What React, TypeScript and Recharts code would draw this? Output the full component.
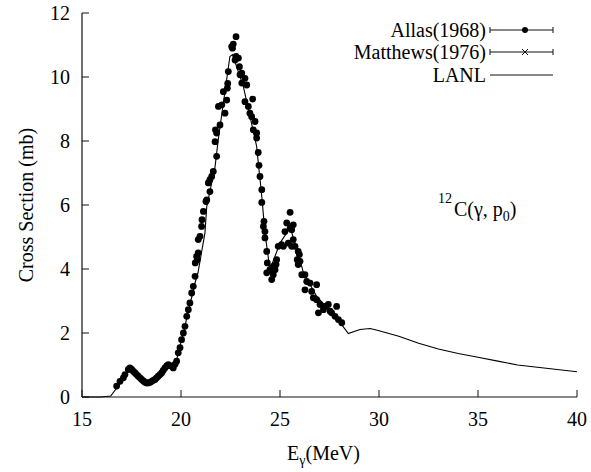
import { ComposedChart, Line, Scatter, XAxis, YAxis } from "recharts"

// LANL evaluation curve
const lanlE = [15, 15.94, 16.45, 16.9, 17.42, 17.9, 18.35, 18.9, 19.34, 19.58, 19.78, 20.12, 20.71, 20.86, 21.21, 21.3, 21.72, 21.88, 22.47, 22.6, 23.15, 23.82, 24.08, 24.24, 24.49, 25.0, 25.51, 25.92, 26.18, 26.85, 28.03, 28.45, 29.04, 29.55, 29.96, 31, 32, 33, 34, 35, 36, 37, 38, 39, 40]
const lanlXs = [0, 0, 0.03, 0.4, 0.86, 0.62, 0.45, 0.72, 1.06, 0.93, 1.17, 2.01, 3.57, 3.89, 5.13, 5.95, 7.2, 8.04, 10.64, 10.7, 9.7, 7.83, 6.27, 5.13, 3.98, 4.81, 5.29, 4.51, 3.89, 3.15, 2.33, 1.98, 2.11, 2.14, 2.08, 1.9, 1.68, 1.5, 1.36, 1.24, 1.12, 1.0, 0.93, 0.86, 0.79]

// Allas (1968) measured points
const allasE = [16.75, 16.92, 17.09, 17.17, 17.34, 17.42, 17.51, 17.6, 17.68, 17.76, 17.84, 17.93, 18.01, 18.1, 18.18, 18.27, 18.35, 18.44, 18.52, 18.6, 18.69, 18.77, 18.85, 18.94, 19.02, 19.1, 19.19, 19.28, 19.36, 19.45, 19.53, 19.61, 19.7, 19.78, 19.86, 19.95, 20.03, 20.12, 20.2, 20.29, 20.37, 20.45, 20.54, 20.62, 20.71, 20.72, 20.79, 20.82, 20.87, 20.87, 20.96, 21.04, 21.06, 21.13, 21.26, 21.3, 21.38, 21.46, 21.46, 21.55, 21.63, 21.72, 21.8, 21.8, 21.74, 21.89, 21.97, 22.06, 22.14, 22.22, 22.31, 22.34, 22.36, 22.39, 22.56, 22.64, 22.6, 22.73, 22.78, 22.78, 22.9, 22.95, 22.98, 23.07, 23.07, 23.23, 23.32, 23.23, 23.4, 23.48, 23.57, 23.62, 23.65, 23.74, 23.82, 23.82, 23.9, 23.94, 23.99, 24.08, 24.08, 24.19, 24.16, 24.24, 24.24, 24.33, 24.36, 24.33, 24.49, 24.58, 24.66, 24.66, 24.75, 24.8, 24.83, 24.91, 25.08, 25.17, 25.25, 25.34, 25.42, 25.51, 25.51, 25.59, 25.67, 25.59, 25.67, 25.76, 25.92, 25.98, 25.87, 26.01, 25.92, 26.1, 26.26, 26.35, 26.52, 26.85, 26.26, 26.6, 26.68, 26.85, 27.02, 27.27, 27.44, 27.86, 26.94, 27.19, 27.53, 27.61, 27.78, 27.95, 28.12]
const allasXs = [0.34, 0.49, 0.6, 0.7, 0.86, 0.91, 0.86, 0.8, 0.75, 0.7, 0.65, 0.6, 0.55, 0.5, 0.46, 0.44, 0.44, 0.46, 0.49, 0.52, 0.55, 0.6, 0.65, 0.7, 0.75, 0.83, 0.91, 0.97, 1.01, 0.98, 0.96, 0.91, 1.02, 1.12, 1.38, 1.54, 1.79, 2.0, 2.21, 2.52, 2.73, 2.94, 3.25, 3.46, 3.77, 4.19, 4.39, 4.29, 4.5, 4.92, 5.02, 5.33, 5.54, 5.8, 6.11, 6.16, 6.69, 6.42, 6.79, 6.89, 7.05, 7.98, 7.52, 8.25, 8.35, 9.08, 8.5, 9.13, 9.54, 8.87, 9.28, 9.65, 9.8, 10.17, 10.95, 11.03, 10.9, 10.53, 11.26, 10.64, 10.59, 10.32, 10.07, 10.12, 9.81, 9.96, 9.75, 9.23, 9.08, 8.87, 8.76, 9.31, 8.35, 8.61, 8.25, 8.09, 7.64, 7.24, 6.89, 6.48, 6.08, 5.49, 5.33, 5.17, 4.97, 4.55, 4.19, 3.88, 3.98, 3.67, 3.82, 4.08, 3.98, 4.14, 4.29, 4.71, 4.76, 4.71, 5.17, 5.44, 4.81, 5.28, 5.77, 5.23, 5.38, 4.71, 4.92, 4.71, 4.55, 4.45, 4.29, 4.24, 4.14, 3.82, 3.82, 3.61, 3.56, 3.51, 3.35, 3.3, 3.1, 3.04, 2.89, 2.83, 2.89, 2.83, 2.63, 2.73, 2.68, 2.63, 2.52, 2.42, 2.32]

// Matthews (1976): listed in the legend, no visible points in this range
const matthewsE: number[] = []
const matthewsXs: number[] = []

const xTicks = [15, 20, 25, 30, 35, 40]
const yTicks = [0, 2, 4, 6, 8, 10, 12]
const legendNames = ["Allas(1968)", "Matthews(1976)", "LANL"]

const lanl = lanlE.map((e, i) => ({ e, xs: lanlXs[i] }))
const allas = allasE.map((e, i) => ({ e, xs: allasXs[i] }))
const matthews = matthewsE.map((e, i) => ({ e, xs: matthewsXs[i] }))

const INK = "#111"
const FONT = "'Times New Roman', 'Liberation Serif', 'DejaVu Serif', serif"

const BottomTick = ({ x, y, payload }: any) => (
  <g>
    <line x1={x} x2={x} y1={y} y2={y - 7} stroke={INK} strokeWidth={1} />
    <text x={x} y={y + 29} textAnchor="middle" fontSize={20} style={{ fontFamily: FONT }} fill="#000">
      {payload.value}
    </text>
  </g>
)

const TopTick = ({ x, y }: any) => <line x1={x} x2={x} y1={y} y2={y + 7} stroke={INK} strokeWidth={1} />

const LeftTick = ({ x, y, payload }: any) => (
  <g>
    <line x1={x} x2={x + 7} y1={y} y2={y} stroke={INK} strokeWidth={1} />
    <text x={x - 12} y={y + 7} textAnchor="end" fontSize={20} style={{ fontFamily: FONT }} fill="#000">
      {payload.value}
    </text>
  </g>
)

const RightTick = ({ x, y }: any) => <line x1={x} x2={x - 7} y1={y} y2={y} stroke={INK} strokeWidth={1} />

const XTitle = (props: any) => {
  const vb = props.viewBox
  return (
    <text x={vb.x + vb.width / 2 - 6} y={vb.y + 63} textAnchor="middle" fontSize={20} style={{ fontFamily: FONT }} fill="#000">
      E<tspan fontSize={14} dy={5}>γ</tspan>
      <tspan dy={-5}>(MeV)</tspan>
    </text>
  )
}

const YTitle = (props: any) => {
  const vb = props.viewBox
  const cy = vb.y + vb.height / 2
  return (
    <text
      x={26}
      y={cy}
      transform={`rotate(-90 26 ${cy})`}
      textAnchor="middle"
      dominantBaseline="central"
      fontSize={20}
      style={{ fontFamily: FONT }}
      fill="#000"
    >
      Cross Section (mb)
    </text>
  )
}

const Dot = (p: any) => <circle cx={p.cx} cy={p.cy} r={3.4} fill="#000" />

function Overlay() {
  const rows = [30, 52, 75]
  return (
    <svg width={591} height={472} style={{ position: "absolute", left: 0, top: 0, pointerEvents: "none", fontFamily: FONT }}>
      {legendNames.map((name, i) => (
        <g key={name}>
          <text x={486} y={rows[i] + 7} textAnchor="end" fontSize={20} style={{ fontFamily: FONT }} fill="#000">
            {name}
          </text>
          <line x1={490} x2={553} y1={rows[i]} y2={rows[i]} stroke={INK} strokeWidth={1} />
          {i < 2 && (
            <>
              <line x1={490} x2={490} y1={rows[i] - 3} y2={rows[i] + 3} stroke={INK} />
              <line x1={553} x2={553} y1={rows[i] - 3} y2={rows[i] + 3} stroke={INK} />
            </>
          )}
          {i === 0 && <circle cx={525} cy={rows[i]} r={3} fill="#000" />}
          {i === 1 && (
            <path
              d={`M522,${rows[i] - 3}L528,${rows[i] + 3}M522,${rows[i] + 3}L528,${rows[i] - 3}`}
              stroke={INK}
              strokeWidth={1}
            />
          )}
        </g>
      ))}
      <text fontSize={20} style={{ fontFamily: FONT }} fill="#000">
        <tspan x={438} y={203} fontSize={14}>12</tspan>
        <tspan x={454} y={216}>C(γ, p</tspan>
        <tspan y={221} fontSize={14}>0</tspan>
        <tspan y={216}>)</tspan>
      </text>
    </svg>
  )
}

export default function App() {
  return (
    <div style={{ position: "absolute", left: 0, top: 0, width: 591, height: 472, fontFamily: FONT, background: "#fff" }}>
      <ComposedChart width={591} height={472} margin={{ top: 13, right: 14, bottom: 0, left: 0 }}>
        <XAxis
          xAxisId="b"
          dataKey="e"
          type="number"
          domain={[15, 40]}
          ticks={xTicks}
          allowDataOverflow
          height={75}
          tickSize={0}
          tickMargin={0}
          tickLine={false}
          axisLine={{ stroke: INK, strokeWidth: 1.2 }}
          tick={<BottomTick />}
          label={XTitle}
        />
        <XAxis
          xAxisId="t"
          orientation="top"
          dataKey="e"
          type="number"
          domain={[15, 40]}
          ticks={xTicks}
          height={0}
          tickSize={0}
          tickMargin={0}
          tickLine={false}
          axisLine={{ stroke: INK, strokeWidth: 1.2 }}
          tick={<TopTick />}
        />
        <YAxis
          yAxisId="l"
          type="number"
          domain={[0, 12]}
          ticks={yTicks}
          width={82}
          tickSize={0}
          tickMargin={0}
          tickLine={false}
          axisLine={{ stroke: INK, strokeWidth: 1.2 }}
          tick={<LeftTick />}
          label={YTitle}
        />
        <YAxis
          yAxisId="r"
          orientation="right"
          type="number"
          domain={[0, 12]}
          ticks={yTicks}
          width={0}
          tickSize={0}
          tickMargin={0}
          tickLine={false}
          axisLine={{ stroke: INK, strokeWidth: 1.2 }}
          tick={<RightTick />}
        />
        <Line
          xAxisId="b"
          yAxisId="l"
          data={lanl}
          dataKey="xs"
          type="linear"
          stroke="#000"
          strokeWidth={1.1}
          dot={false}
          isAnimationActive={false}
        />
        <Scatter xAxisId="b" yAxisId="l" data={allas} dataKey="xs" shape={Dot} isAnimationActive={false} />
        <Scatter xAxisId="b" yAxisId="l" data={matthews} dataKey="xs" isAnimationActive={false} />
      </ComposedChart>
      <Overlay />
    </div>
  )
}
